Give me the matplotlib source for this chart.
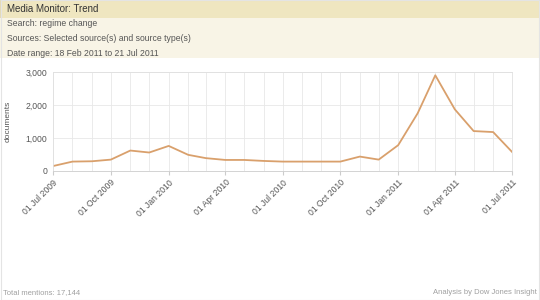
import numpy as np
import pandas as pd
import matplotlib
matplotlib.use("Agg")
import matplotlib.pyplot as plt

# monthly document counts, Jul 2009 - Jul 2011
months = pd.date_range("2009-07-01", "2011-07-01", freq="MS")
documents = [150, 285, 295, 345, 620, 560, 760, 490, 390, 335, 335, 305,
             285, 285, 285, 285, 437, 345, 783, 1750, 2900, 1870, 1210, 1180, 580]
yticks = [0, 1000, 2000, 3000]
label_months = pd.date_range("2009-07-01", "2011-07-01", freq="3MS")

header = "Media Monitor: Trend"
info_lines = ["Search: regime change",
              "Sources: Selected source(s) and source type(s)",
              "Date range: 18 Feb 2011 to 21 Jul 2011"]
footer_left = "Total mentions: 17,144"
footer_right = "Analysis by Dow Jones Insight"

plt.rcParams['font.family'] = ['Liberation Sans', 'DejaVu Sans']

fig = plt.figure(figsize=(5.4, 3.0), dpi=100)
fig.patch.set_facecolor("white")

# header bands
fig.patches.append(plt.Rectangle((0, 1 - 18/300), 1, 18/300, transform=fig.transFigure,
                                 facecolor="#efe6c0", edgecolor="#e0d6ae", lw=0.6))
fig.patches.append(plt.Rectangle((0, 1 - 58/300), 1, 40/300, transform=fig.transFigure,
                                 facecolor="#f8f4e6", edgecolor="none"))
fig.patches.append(plt.Rectangle((0.001, 0.001), 0.998, 0.998, transform=fig.transFigure,
                                 facecolor="none", edgecolor="#e4e4e4", lw=0.8))

fig.text(7/540, 1 - 9/300, header, fontsize=7, color="#333333", va="center")
for i, line in enumerate(info_lines):
    fig.text(7/540, 1 - (24 + i*14.5)/300, line, fontsize=6.2, color="#555555", va="center")
fig.text(3/540, 1 - 293/300, footer_left, fontsize=5.5, color="#a0a0a0", va="center")
fig.text(537/540, 1 - 293/300, footer_right, fontsize=5.5, color="#a0a0a0", va="center", ha="right")

ax = fig.add_axes([53/540, 1 - 171/300, 459/540, 99/300])
ax.plot(months, documents, color="#d9a06c", lw=1.3)
ax.set_xlim(months[0], months[-1])
ax.set_ylim(0, 3000)
ax.set_yticks(yticks)
ax.set_yticklabels([f"{v:,}" for v in yticks], fontsize=6.2, color="#555555")
ax.set_xticks(months, minor=True)
ax.set_xticks(label_months)
ax.set_xticklabels([d.strftime("%d %b %Y") for d in label_months], rotation=45,
                   ha="right", rotation_mode="anchor", fontsize=6.2, color="#555555")
ax.grid(True, which="both", axis="x", color="#e8e8e8", lw=0.6)
ax.grid(True, which="major", axis="y", color="#e8e8e8", lw=0.6)
ax.set_axisbelow(True)
ax.tick_params(axis="x", which="major", length=3, color="#cccccc", pad=2)
ax.tick_params(axis="x", which="minor", length=0)
ax.tick_params(axis="y", length=0, pad=4)
for s in ax.spines.values():
    s.set_color("#e0e0e0")
    s.set_linewidth(0.6)
ax.spines["bottom"].set_color("#cccccc")
ax.set_ylabel("documents", fontsize=6, color="#555555", labelpad=10)

fig.savefig("out.png", dpi=100)
